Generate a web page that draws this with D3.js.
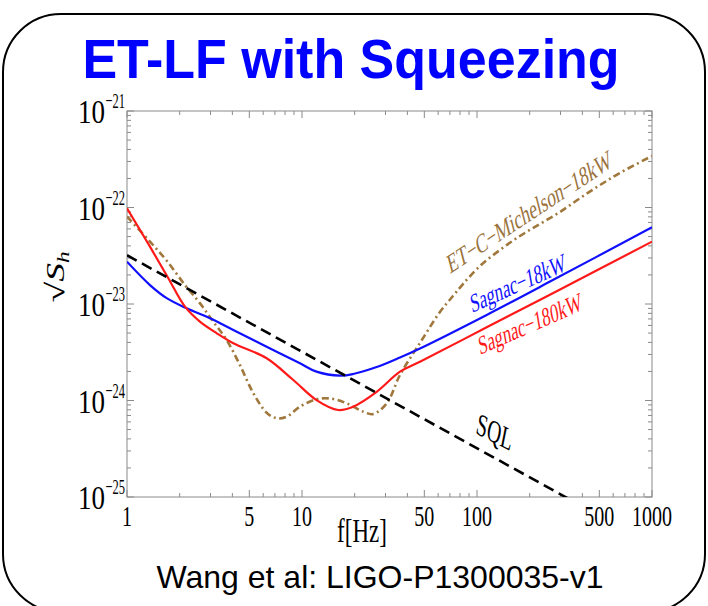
<!DOCTYPE html>
<html><head><meta charset="utf-8">
<script src="https://cdn.jsdelivr.net/npm/d3@7"></script>
<style>html,body{margin:0;padding:0;background:#fff;}</style>
</head><body>
<svg id="c" width="708" height="606"></svg>
<script>
// ---- data ----
const xTickLabels = ["1","5","10","50","100","500","1000"];
const xTickValues = [1,5,10,50,100,500,1000];
const yTickExps = [-21,-22,-23,-24,-25];

const sqlFreq = [1, 1000];
const sqlVals = [3.2e-23, 3.2e-26];

const s18Freq = [1,1.353,1.686,2.193,2.98,4.05,6.28,9.74,12.1,16.5,19.6,26.7,36.3,47.2,113.6,273,1000];
const s18Vals = [2.74e-23,1.57e-23,1.15e-23,9.02e-24,7.11e-24,5.38e-24,3.61e-24,2.43e-24,1.99e-24,1.81e-24,1.88e-24,2.22e-24,2.79e-24,3.46e-24,7.71e-24,1.78e-23,6.24e-23];

const s180Freq = [1,1.353,1.722,2.145,2.61,3.26,4.05,6.28,8.92,12.1,16.1,19.6,26.7,36.3,47.2,113.6,273,1000];
const s180Vals = [9.8e-23,3.93e-23,1.85e-23,9.38e-24,6.56e-24,4.97e-24,3.92e-24,2.74e-24,1.63e-24,1.01e-24,7.97e-25,8.63e-25,1.23e-24,1.99e-24,2.52e-24,5.73e-24,1.30e-23,4.43e-23];

const etcFreq = [1,1.353,1.686,2.145,2.61,3.11,3.71,4.42,5.27,6.28,7.17,8.18,9.74,12.1,14.45,18.0,22.4,25.5,30.5,36.3,47.2,61.4,72.9,83.2,104,135.3,176,229,298,388,505,656,1000];
const etcVals = [8.04e-23,4.43e-23,2.81e-23,1.57e-23,1.02e-23,6.56e-24,4.24e-24,2.33e-24,1.19e-24,7.48e-25,6.55e-25,6.80e-25,8.63e-25,1.03e-24,1.05e-24,9.35e-25,7.65e-25,7.24e-25,9.35e-25,1.84e-24,3.94e-24,8.26e-24,1.21e-23,1.61e-23,2.48e-23,3.63e-23,5.07e-23,6.75e-23,8.98e-23,1.25e-22,1.71e-22,2.28e-22,3.42e-22];

// ---- layout ----
const svg = d3.select("#c");
const L = 127, R = 652, T = 111, B = 497;
const x = d3.scaleLog().domain([1,1000]).range([L,R]);
const y = d3.scaleLog().domain([1e-25,1e-21]).range([B,T]);
const SY = 1.6; // vertical stretch of the figure's curve labels

// outer rounded frame
svg.append("rect").attr("x",3).attr("y",14).attr("width",702).attr("height",598)
  .attr("rx",58).attr("ry",58).attr("fill","none").attr("stroke","#000").attr("stroke-width",2);

// title
svg.append("text").attr("x",351).attr("y",78).attr("text-anchor","middle")
  .attr("font-family","Liberation Sans, Arial, sans-serif").attr("font-weight","bold")
  .attr("font-size",52).attr("fill","#0000ff").attr("transform","translate(351,78) scale(1,1.08) translate(-351,-78)")
  .text("ET-LF with Squeezing");

// bottom citation
svg.append("text").attr("x",380).attr("y",588).attr("text-anchor","middle")
  .attr("font-family","Liberation Sans, Arial, sans-serif").attr("font-size",32).attr("fill","#000")
  .text("Wang et al: LIGO-P1300035-v1");

// clip
svg.append("clipPath").attr("id","pc").append("rect").attr("x",L).attr("y",T).attr("width",R-L).attr("height",B-T);

// frame & ticks
const fg = svg.append("g").attr("stroke","#8a8a8a").attr("stroke-width",1).attr("fill","none");
fg.append("rect").attr("x",L).attr("y",T).attr("width",R-L).attr("height",B-T);
const xt = [];
for (let d=0; d<3; d++) for (let m=1; m<10; m++) xt.push({v:m*Math.pow(10,d), major:(m===1||m===5)});
xt.push({v:1000, major:true});
xt.forEach(t=>{
  const px = x(t.v), len = t.major?7:4;
  fg.append("line").attr("x1",px).attr("x2",px).attr("y1",B).attr("y2",B-len);
  fg.append("line").attr("x1",px).attr("x2",px).attr("y1",T).attr("y2",T+len);
});
const yt = [];
for (let e=-25; e<-21; e++) for (let m=1; m<10; m++) yt.push({v:m*Math.pow(10,e), major:m===1});
yt.push({v:1e-21, major:true});
yt.forEach(t=>{
  const py = y(t.v), len = t.major?7:4;
  fg.append("line").attr("y1",py).attr("y2",py).attr("x1",L).attr("x2",L+len);
  fg.append("line").attr("y1",py).attr("y2",py).attr("x1",R).attr("x2",R-len);
});

const serif = "Liberation Serif, Times New Roman, serif";
function stretchText(px, py, str, size, anchor, sy, rot) {
  const g = svg.append("g").attr("transform",`translate(${px},${py}) scale(1,${sy}) rotate(${rot||0})`);
  return g.append("text").attr("x",0).attr("y",0).attr("text-anchor",anchor||"start")
    .attr("font-family",serif).attr("font-size",size).attr("fill","#000").text(str);
}

// x tick labels
xTickValues.forEach((v,i)=>{ stretchText(x(v), 526, xTickLabels[i], 20, "middle", 1.48); });
// x axis title
stretchText(362, 542, "f[Hz]", 23, "middle", 1.5);

// y tick labels
yTickExps.forEach(e=>{
  const py = y(Math.pow(10,e));
  stretchText(105, py+12, "10", 27, "end", 1.28);
  stretchText(105.5, py-3, "\u2212"+(-e), 12.5, "start", 1.75);
});

// y axis title sqrt(S_h)
{
  const g = svg.append("g").attr("transform",`translate(64,277) scale(1,1.45) rotate(-90)`);
  const t = g.append("text").attr("x",0).attr("y",0).attr("text-anchor","middle")
    .attr("font-family",serif).attr("font-size",26).attr("fill","#000");
  t.append("tspan").text("\u221A");
  t.append("tspan").attr("font-style","italic").text("S");
  t.append("tspan").attr("font-style","italic").attr("font-size",16).attr("dy",5).text("h");
}

// curves
const line = d3.line().x(d=>x(d[0])).y(d=>y(d[1])).curve(d3.curveCatmullRom.alpha(0.5));
const pg = svg.append("g").attr("clip-path","url(#pc)").attr("fill","none");
const zip = (a,b)=>a.map((f,i)=>[f,b[i]]);
pg.append("path").attr("d",line(zip(etcFreq,etcVals))).attr("stroke","#a0783c").attr("stroke-width",2.6)
  .attr("stroke-dasharray","7,3.5,2,3.5");
pg.append("path").attr("d",line(zip(s18Freq,s18Vals))).attr("stroke","#1010ff").attr("stroke-width",2.2);
pg.append("path").attr("d",line(zip(s180Freq,s180Vals))).attr("stroke","#ff1a1a").attr("stroke-width",2.2);
pg.append("path").attr("d",d3.line().x(d=>x(d[0])).y(d=>y(d[1]))(zip(sqlFreq,sqlVals)))
  .attr("stroke","#000").attr("stroke-width",2.6).attr("stroke-dasharray","11,6");

// curve labels (rotated, stretched)
function curveLabel(px, py, str, size, rot, color) {
  stretchText(px, py, str, size, "start", SY, rot).attr("fill", color);
}
curveLabel(450, 274, "ET\u2212C\u2212Michelson\u221218kW", 17.2, -22.4, "#9a733c");
curveLabel(472, 313, "Sagnac\u221218kW", 16.7, -15.7, "#1010ff");
curveLabel(480, 355, "Sagnac\u2212180kW", 16.7, -15.4, "#ff1a1a");
curveLabel(475, 433, "SQL", 19.8, 17.7, "#000");
</script>
</body></html>
